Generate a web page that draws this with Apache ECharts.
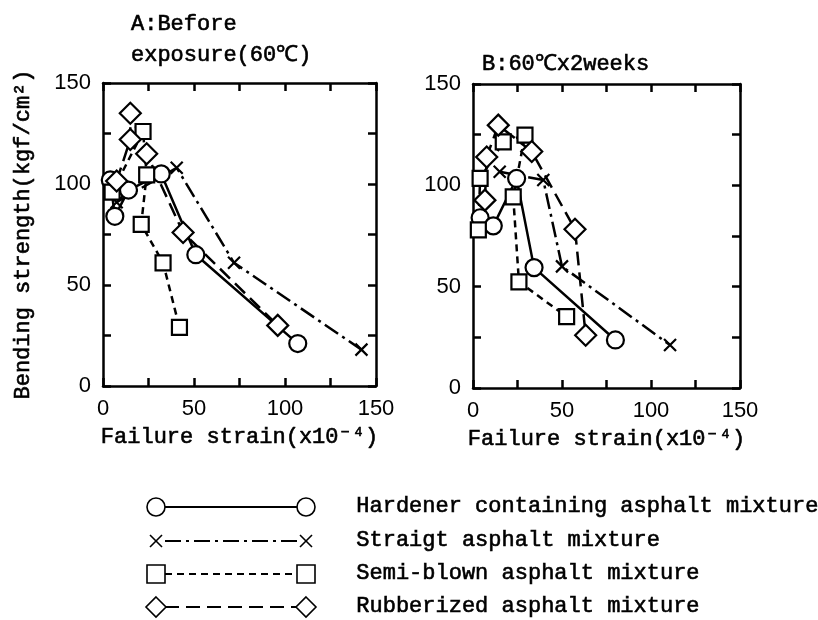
<!DOCTYPE html>
<html><head><meta charset="utf-8">
<script src="https://cdn.jsdelivr.net/npm/echarts@6/dist/echarts.min.js"></script>
<style>html,body{margin:0;padding:0;background:#fff}#c{width:818px;height:620px}</style>
</head><body><div id="c"></div>
<script>
// ---- data: [strain, strength] pairs ----
const seriesNames = ['Hardener containing asphalt mixture','Straigt asphalt mixture','Semi-blown asphalt mixture','Rubberized asphalt mixture'];
const panelTitles = ['A:Before\nexposure(60\u2103)', 'B:60\u2103x2weeks'];
const xTicks = [0, 50, 100, 150];
const yTicks = [0, 50, 100, 150];

const hardenerA_x = [4, 6.5, 14, 32, 51, 107];
const hardenerA_y = [102, 84, 97, 105, 65, 21];
const straightA_x = [7.5, 40.5, 72, 142];
const straightA_y = [91, 108, 61, 18];
const semiA_x = [5, 22, 24, 21, 33, 42];
const semiA_y = [96, 126, 104.5, 80, 61, 29];
const rubberA_x = [7.5, 15, 15, 24, 44, 96];
const rubberA_y = [101.5, 122, 135, 115, 76, 30];

const hardenerB_x = [4, 11.4, 24.5, 34.3, 80];
const hardenerB_y = [84, 80, 103.4, 59.4, 23.7];
const straightB_x = [15, 39.5, 50, 110.7];
const straightB_y = [106.7, 102.6, 60, 21.2];
const semiB_x = [3, 4, 17, 29.2, 22.6, 25.8, 52.6];
const semiB_y = [78, 103.4, 121.4, 124.8, 94.3, 52.4, 35.2];
const rubberB_x = [6.7, 7.7, 14.2, 33, 57.3, 63.3];
const rubberB_y = [92.7, 114, 129.7, 116.7, 78.3, 26];

// ---- styling ----
const MONO = "'Liberation Mono','DejaVu Sans Mono',monospace";
const SANS = "'Liberation Sans',Arial,sans-serif";
const monoStyle = {fontSize:22, fontFamily:MONO, color:'#000', fontWeight:'normal', textBorderColor:'#000', textBorderWidth:0.6};
const crossPath = 'path://M0,0L10,10M10,0L0,10';
const styles = [
  {symbol:'circle', size:17, dash:'solid'},
  {symbol:crossPath, size:12, dash:[16,5,3,5]},
  {symbol:'rect', size:15, dash:[7,5]},
  {symbol:'diamond', size:21, dash:[14,7]}
];
const panelData = [
  [[hardenerA_x,hardenerA_y],[straightA_x,straightA_y],[semiA_x,semiA_y],[rubberA_x,rubberA_y]],
  [[hardenerB_x,hardenerB_y],[straightB_x,straightB_y],[semiB_x,semiB_y],[rubberB_x,rubberB_y]]
];
const grids = [
  {left:103, top:83, width:273, height:303},
  {left:473, top:84, width:267, height:304}
];

function pairs(xs, ys){ return xs.map((x,i)=>[x, ys[i]]); }
const lineW = 2.5;
const axisCommon = {
  type:'value', min:0, max:150, interval:25,
  axisLine:{show:true, onZero:false, lineStyle:{color:'#000', width:lineW}},
  axisTick:{show:true, inside:true, length:8, lineStyle:{color:'#000', width:lineW}},
  splitLine:{show:false}
};
const xAxis = [], yAxis = [], series = [];
grids.forEach((g, gi) => {
  xAxis.push(Object.assign({}, axisCommon, {
    gridIndex:gi, position:'bottom',
    axisLabel:{fontSize:22, fontFamily:SANS, color:'#000', margin:12,
      formatter: v => xTicks.includes(v) ? String(v) : ''},
    name:'Failure strain(x10\u207B\u2074)', nameLocation:'middle', nameGap:40,
    nameTextStyle:monoStyle
  }));
  xAxis.push(Object.assign({}, axisCommon, {gridIndex:gi, position:'top', axisLabel:{show:false}}));
  const yl = Object.assign({}, axisCommon, {
    gridIndex:gi, position:'left',
    axisLabel:{fontSize:22, fontFamily:SANS, color:'#000', margin:12,
      formatter: v => yTicks.includes(v) ? String(v) : ''}
  });
  if (gi === 0) {
    yl.name = 'Bending strength(kgf/cm\u00B2)';
    yl.nameLocation = 'middle'; yl.nameGap = 69; yl.nameRotate = 90;
    yl.nameTextStyle = monoStyle;
  }
  yAxis.push(yl);
  yAxis.push(Object.assign({}, axisCommon, {gridIndex:gi, position:'right', axisLabel:{show:false}}));
  panelData[gi].forEach((d, si) => {
    const st = styles[si];
    series.push({
      type:'line', name:seriesNames[si], xAxisIndex:gi*2, yAxisIndex:gi*2,
      data: pairs(d[0], d[1]),
      symbol: st.symbol, symbolSize: st.size, showAllSymbol:true,
      lineStyle:{color:'#000', width:lineW, type: st.dash},
      itemStyle: si===1 ? {color:'#000', borderColor:'#000', borderWidth:2.2}
                        : {color:'#fff', borderColor:'#000', borderWidth:2.2},
      z: 3, emphasis:{disabled:true}
    });
  });
});

// ---- legend drawn as graphic ----
const legendRows = [507, 541, 574, 607];
const lx1 = 156, lx2 = 306, textX = 356;
const legendGraphics = [];
legendRows.forEach((y, i) => {
  const dash = styles[i].dash;
  legendGraphics.push({type:'line', shape:{x1:lx1+9, y1:y, x2:lx2-9, y2:y},
    style:{stroke:'#000', lineWidth:2.2, lineDash: dash==='solid'?null:dash}});
  [lx1, lx2].forEach(cx => {
    if (i===0) legendGraphics.push({type:'circle', shape:{cx:cx, cy:y, r:9}, style:{fill:'#fff', stroke:'#000', lineWidth:1.6}});
    if (i===1) {
      legendGraphics.push({type:'line', shape:{x1:cx-6,y1:y-6,x2:cx+6,y2:y+6}, style:{stroke:'#000', lineWidth:1.6}});
      legendGraphics.push({type:'line', shape:{x1:cx-6,y1:y+6,x2:cx+6,y2:y-6}, style:{stroke:'#000', lineWidth:1.6}});
    }
    if (i===2) legendGraphics.push({type:'rect', shape:{x:cx-9, y:y-9, width:18, height:18}, style:{fill:'#fff', stroke:'#000', lineWidth:1.6}});
    if (i===3) legendGraphics.push({type:'polygon', shape:{points:[[cx,y-10],[cx+10,y],[cx,y+10],[cx-10,y]]}, style:{fill:'#fff', stroke:'#000', lineWidth:1.6}});
  });
  legendGraphics.push({type:'text', left:textX, top:y-12,
    style:{text:seriesNames[i], font:'22px ' + MONO, fill:'#000', stroke:'#000', lineWidth:0.6}});
});

const chart = echarts.init(document.getElementById('c'), null, {renderer:'canvas'});
chart.setOption({
  animation:false,
  backgroundColor:'#fff',
  title:[
    {text:panelTitles[0], left:126, top:4, textStyle:Object.assign({lineHeight:31}, monoStyle)},
    {text:panelTitles[1], left:477, top:48, textStyle:monoStyle}
  ],
  grid: grids.map(g => Object.assign({containLabel:false}, g)),
  xAxis, yAxis, series,
  graphic: legendGraphics
});
</script></body></html>
